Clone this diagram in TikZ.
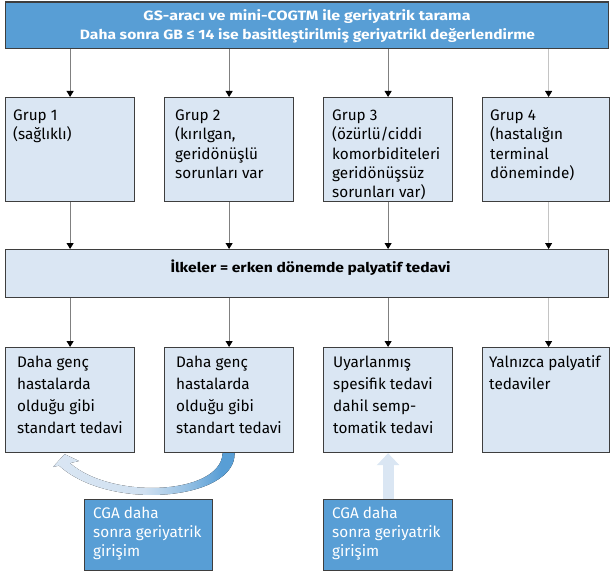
\documentclass[tikz,border=0pt]{standalone}
\usepackage{fontspec}
\setmainfont{Fira Sans}
\usepackage{graphicx}
\usetikzlibrary{arrows.meta,calc,backgrounds}

\definecolor{boxblue}{RGB}{88,158,213}
\definecolor{boxpale}{RGB}{218,230,243}
\definecolor{boxline}{RGB}{62,62,62}
\definecolor{linkgray}{RGB}{128,128,128}
\definecolor{linkpale}{RGB}{196,196,196}

% pale on the left, deep blue on the right (path box spans 25bp..75bp)
\pgfdeclarehorizontalshading{loopshade}{100bp}{%
  color(0bp)=(boxpale); color(25bp)=(boxpale); color(50bp)=(boxpale!92!boxblue);
  color(62bp)=(boxblue!55!boxpale); color(71bp)=(boxblue); color(100bp)=(boxblue)}

% body text block: first baseline is the reference point
\newcommand{\blocktext}[3]{\parbox[t]{#1}{\fontsize{15.3}{#2}\selectfont\raggedright #3}}
% bold heading line, fitted to a given width
\newcommand{\headline}[2]{\resizebox{#1}{\height}{\fontsize{13.5}{16}\selectfont\bfseries #2}}

\tikzset{
  darkbox/.style={draw=boxline, line width=1.2pt, fill=boxblue, inner sep=0pt, anchor=north west},
  palebox/.style={darkbox, fill=boxpale},
  txt/.style={anchor=base west, inner sep=0pt, text=black},
  wtxt/.style={txt, text=white},
  head/.style={anchor=base, inner sep=0pt, text=#1},
  head/.default=black,
  link/.style={draw=linkgray, line width=0.8pt, -{Triangle[width=7pt,length=6pt,color=black]}},
  linkb/.style={link, draw=linkpale},
}

\begin{document}
\begin{tikzpicture}[x=1pt,y=-1pt]
\useasboundingbox (0,0) rectangle (610,572);

% screening box
\node[darkbox, minimum width=603pt, minimum height=46.5pt] (top) at (5,1.5) {};
\node[head=white] (t1) at (307,20.7) {\headline{327pt}{GS-aracı ve mini-COGTM ile geriyatrik tarama}};
\node[head=white] (t2) at (307.5,40) {\headline{455pt}{Daha sonra GB ≤ 14 ise basitleştirilmiş geriyatrikl değerlendirme}};

% group boxes
\node[palebox, minimum width=129pt, minimum height=104pt] (g1) at (5,97) {};
\node[palebox, minimum width=129pt, minimum height=104pt] (g2) at (164,97) {};
\node[palebox, minimum width=129pt, minimum height=104pt] (g3) at (323,97) {};
\node[palebox, minimum width=127pt, minimum height=104pt] (g4) at (482,97) {};
\node[txt] (g1t) at (13,120.5) {\blocktext{120pt}{19.3pt}{Grup 1\\(sağlıklı)}};
\node[txt] (g2t) at (175,120.5) {\blocktext{120pt}{19.3pt}{Grup 2\\(kırılgan,\\geridönüşlü\\sorunları var}};
\node[txt] (g3t) at (332,120.5) {\blocktext{120pt}{19.3pt}{Grup 3\\(özürlü/ciddi\\komorbiditeleri\\geridönüşsüz\\sorunları var)}};
\node[txt] (g4t) at (490,120.5) {\blocktext{120pt}{19.3pt}{Grup 4\\(hastalığın\\terminal\\döneminde)}};

% principle box
\node[palebox, minimum width=603pt, minimum height=48pt] (pal) at (5,249) {};
\node[head] (palt) at (310.5,272.7) {\headline{280pt}{İlkeler = erken dönemde palyatif tedavi}};

% treatment boxes
\node[palebox, minimum width=129pt, minimum height=105pt] (b1) at (5,347) {};
\node[palebox, minimum width=129pt, minimum height=105pt] (b2) at (164,347) {};
\node[palebox, minimum width=129pt, minimum height=105pt] (b3) at (323,347) {};
\node[palebox, minimum width=127pt, minimum height=105pt] (b4) at (482,347) {};
\node[txt] (b1t) at (17,367) {\blocktext{120pt}{22pt}{Daha genç\\hastalarda\\olduğu gibi\\standart tedavi}};
\node[txt] (b2t) at (176,367) {\blocktext{120pt}{22pt}{Daha genç\\hastalarda\\olduğu gibi\\standart tedavi}};
\node[txt] (b3t) at (333,367) {\blocktext{120pt}{22pt}{Uyarlanmış\\spesifik tedavi\\dahil semp-\\tomatik tedavi}};
\node[txt] (b4t) at (489,367) {\blocktext{120pt}{22pt}{Yalnızca palyatif\\tedaviler}};

% geriatric intervention boxes
\node[darkbox, minimum width=128pt, minimum height=71pt] (c1) at (84,499) {};
\node[darkbox, minimum width=129pt, minimum height=71pt] (c2) at (323,499) {};
\node[wtxt] (c1t) at (93,518.3) {\blocktext{120pt}{19.2pt}{CGA daha\\sonra geriyatrik\\girişim}};
\node[wtxt] (c2t) at (332,518.3) {\blocktext{120pt}{19.2pt}{CGA daha\\sonra geriyatrik\\girişim}};

% connectors
\draw[link]  (g1.north |- top.south) -- (g1.north);
\draw[link]  (g2.north |- top.south) -- (g2.north);
\draw[link]  (g3.north |- top.south) -- (g3.north);
\draw[linkb] ($(g4.north |- top.south)+(2.5,0)$) -- ($(g4.north)+(2.5,0)$);
\draw[link]  (g1.south) -- (g1.south |- pal.north);
\draw[link]  (g2.south) -- (g2.south |- pal.north);
\draw[link]  (g3.south) -- (g3.south |- pal.north);
\draw[linkb] ($(g4.south)+(2.5,0)$) -- ($(g4.south |- pal.north)+(2.5,0)$);
\draw[link]  (b1.north |- pal.south) -- (b1.north);
\draw[link]  (b2.north |- pal.south) -- (b2.north);
\draw[link]  (b3.north |- pal.south) -- (b3.north);
\draw[linkb] ($(b4.north |- pal.south)+(2.5,0)$) -- ($(b4.north)+(2.5,0)$);

\begin{scope}[on background layer]
  % wide pale arrow from the second intervention box
  \draw[boxpale, line width=11pt, -{Triangle[width=22pt,length=12pt]}] (c2.north) -- (b3.south);
  % swept arrow from the second to the first treatment box
  \fill[shading=loopshade]
    ($(b2.south)+(5.5,0)$) .. controls (236,500) and (110,512) .. (59,465.6)
    -- (53,467) -- ($(b1.south)+(-5.5,1)$) -- (79,461) -- (70,463.1)
    .. controls (112,500) and (221,495) .. ($(b2.south)+(-6.5,0)$) -- cycle;
\end{scope}
\end{tikzpicture}
\end{document}
